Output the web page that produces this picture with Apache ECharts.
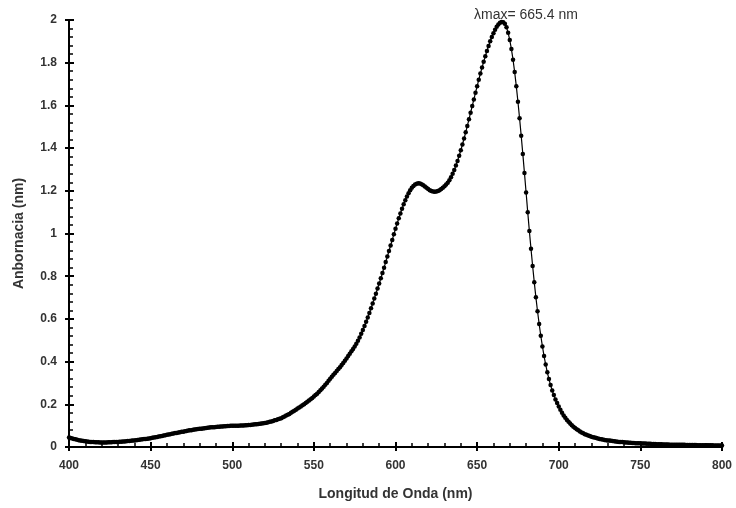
<!DOCTYPE html>
<html>
<head>
<meta charset="utf-8">
<script src="https://cdn.jsdelivr.net/npm/echarts@6/dist/echarts.min.js"></script>
<style>
  html, body { margin: 0; padding: 0; background: #fff; }
  #chart { width: 736px; height: 508px; }
</style>
</head>
<body>
<div id="chart"></div>
<script>
  // espectro: una lectura por nm, de 400 a 800 nm
  const startNm = 400
  const stepNm = 1
  const absorbancia = [
    0.044, 0.042, 0.040, 0.038, 0.036, 0.034, 0.032, 0.031, 0.029, 0.028, // 400
    0.027, 0.026, 0.025, 0.024, 0.023, 0.023, 0.022, 0.022, 0.022, 0.021, // 410
    0.021, 0.021, 0.021, 0.021, 0.022, 0.022, 0.022, 0.023, 0.023, 0.024, // 420
    0.024, 0.025, 0.025, 0.026, 0.026, 0.027, 0.028, 0.028, 0.029, 0.030, // 430
    0.031, 0.032, 0.033, 0.034, 0.035, 0.036, 0.037, 0.038, 0.039, 0.040, // 440
    0.041, 0.043, 0.044, 0.046, 0.047, 0.049, 0.050, 0.052, 0.054, 0.055, // 450
    0.057, 0.058, 0.060, 0.062, 0.063, 0.065, 0.066, 0.068, 0.069, 0.071, // 460
    0.072, 0.074, 0.075, 0.077, 0.078, 0.079, 0.081, 0.082, 0.083, 0.084, // 470
    0.085, 0.086, 0.087, 0.088, 0.089, 0.090, 0.091, 0.092, 0.093, 0.093, // 480
    0.094, 0.095, 0.095, 0.096, 0.096, 0.097, 0.097, 0.098, 0.098, 0.099, // 490
    0.099, 0.099, 0.100, 0.100, 0.100, 0.101, 0.101, 0.101, 0.102, 0.102, // 500
    0.103, 0.103, 0.104, 0.105, 0.106, 0.107, 0.108, 0.109, 0.110, 0.111, // 510
    0.112, 0.114, 0.116, 0.118, 0.120, 0.122, 0.125, 0.127, 0.130, 0.132, // 520
    0.135, 0.139, 0.143, 0.147, 0.151, 0.155, 0.160, 0.165, 0.170, 0.175, // 530
    0.180, 0.185, 0.190, 0.195, 0.200, 0.206, 0.212, 0.218, 0.224, 0.230, // 540
    0.236, 0.243, 0.250, 0.258, 0.266, 0.274, 0.282, 0.291, 0.300, 0.310, // 550
    0.320, 0.329, 0.338, 0.347, 0.356, 0.365, 0.374, 0.384, 0.394, 0.404, // 560
    0.415, 0.426, 0.437, 0.448, 0.459, 0.471, 0.484, 0.498, 0.513, 0.530, // 570
    0.548, 0.567, 0.587, 0.607, 0.628, 0.650, 0.672, 0.695, 0.718, 0.742, // 580
    0.766, 0.790, 0.815, 0.840, 0.866, 0.892, 0.918, 0.944, 0.970, 0.996, // 590
    1.022, 1.047, 1.071, 1.094, 1.116, 1.137, 1.156, 1.173, 1.189, 1.203, // 600
    1.214, 1.223, 1.229, 1.233, 1.235, 1.234, 1.231, 1.226, 1.220, 1.214, // 610
    1.208, 1.203, 1.199, 1.197, 1.196, 1.197, 1.199, 1.203, 1.208, 1.214, // 620
    1.221, 1.229, 1.238, 1.250, 1.264, 1.280, 1.298, 1.318, 1.340, 1.364, // 630
    1.390, 1.417, 1.445, 1.474, 1.504, 1.535, 1.566, 1.597, 1.628, 1.659, // 640
    1.690, 1.720, 1.749, 1.777, 1.804, 1.830, 1.855, 1.878, 1.900, 1.920, // 650
    1.938, 1.954, 1.968, 1.979, 1.987, 1.991, 1.990, 1.983, 1.966, 1.940, // 660
    1.906, 1.864, 1.814, 1.756, 1.690, 1.617, 1.540, 1.458, 1.372, 1.283, // 670
    1.192, 1.100, 1.012, 0.928, 0.848, 0.772, 0.701, 0.636, 0.576, 0.521, // 680
    0.471, 0.426, 0.386, 0.350, 0.318, 0.290, 0.265, 0.243, 0.223, 0.206, // 690
    0.190, 0.175, 0.161, 0.148, 0.137, 0.127, 0.118, 0.110, 0.102, 0.095, // 700
    0.089, 0.083, 0.078, 0.073, 0.068, 0.064, 0.060, 0.057, 0.054, 0.051, // 710
    0.048, 0.046, 0.044, 0.042, 0.040, 0.038, 0.036, 0.035, 0.033, 0.032, // 720
    0.031, 0.030, 0.029, 0.028, 0.027, 0.026, 0.025, 0.024, 0.023, 0.023, // 730
    0.022, 0.021, 0.021, 0.020, 0.020, 0.019, 0.019, 0.018, 0.018, 0.017, // 740
    0.017, 0.016, 0.016, 0.016, 0.015, 0.015, 0.015, 0.014, 0.014, 0.014, // 750
    0.013, 0.013, 0.013, 0.013, 0.012, 0.012, 0.012, 0.012, 0.011, 0.011, // 760
    0.011, 0.011, 0.011, 0.010, 0.010, 0.010, 0.010, 0.010, 0.009, 0.009, // 770
    0.009, 0.009, 0.009, 0.009, 0.009, 0.008, 0.008, 0.008, 0.008, 0.008, // 780
    0.008, 0.008, 0.008, 0.008, 0.008, 0.007, 0.007, 0.007, 0.007, 0.007, // 790
    0.007 // 800
  ]
  const xTicks = { min: 400, max: 800, interval: 50 }
  const yTicks = { min: 0, max: 2, interval: 0.2 }
  const lambdaMax = 665.4

  const puntos = absorbancia.map((a, i) => [startNm + i * stepNm, a])

  const font = '"Liberation Sans", Arial, sans-serif'
  const axisLine = { show: true, onZero: false, lineStyle: { color: '#000', width: 2 } }

  const chart = echarts.init(document.getElementById('chart'))
  const option = {
    animation: false,
    backgroundColor: '#fff',
    title: {
      text: 'λmax= ' + lambdaMax + ' nm',
      left: 469,
      top: 3,
      textStyle: { fontFamily: font, fontSize: 14, fontWeight: 'normal', color: '#333' },
    },
    grid: { left: 69, right: 14, top: 20, bottom: 61 },
    xAxis: [
      {
        type: 'value',
        min: xTicks.min,
        max: xTicks.max,
        interval: xTicks.interval,
        position: 'bottom',
        name: 'Longitud de Onda (nm)',
        nameLocation: 'middle',
        nameGap: 40,
        nameTextStyle: { fontFamily: font, fontSize: 14, fontWeight: 'bold', color: '#333' },
        axisLine: axisLine,
        axisTick: { show: true, inside: false, length: 4, lineStyle: { color: '#000', width: 2 } },
        axisLabel: { fontFamily: font, fontSize: 12, fontWeight: 'bold', color: '#333', margin: 13 },
        splitLine: { show: false },
      },
      {
        // segundo eje: marcas hacia dentro y marcas menores
        type: 'value',
        min: xTicks.min,
        max: xTicks.max,
        interval: xTicks.interval,
        position: 'bottom',
        axisLine: axisLine,
        axisTick: { show: true, inside: true, length: 5, lineStyle: { color: '#000', width: 2 } },
        minorTick: { show: true, splitNumber: 5, length: 4, lineStyle: { color: '#000', width: 1.5 } },
        axisLabel: { show: false },
        splitLine: { show: false },
      },
    ],
    yAxis: [
      {
        type: 'value',
        min: yTicks.min,
        max: yTicks.max,
        interval: yTicks.interval,
        position: 'left',
        name: 'Anbornacia (nm)',
        nameLocation: 'middle',
        nameGap: 43,
        nameTextStyle: { fontFamily: font, fontSize: 14, fontWeight: 'bold', color: '#333' },
        axisLine: axisLine,
        axisTick: { show: true, inside: false, length: 4, lineStyle: { color: '#000', width: 2 } },
        axisLabel: { fontFamily: font, fontSize: 12, fontWeight: 'bold', color: '#333', margin: 12 },
        splitLine: { show: false },
      },
      {
        type: 'value',
        min: yTicks.min,
        max: yTicks.max,
        interval: yTicks.interval,
        position: 'left',
        axisLine: axisLine,
        axisTick: { show: true, inside: true, length: 5, lineStyle: { color: '#000', width: 2 } },
        minorTick: { show: true, splitNumber: 5, length: 4, lineStyle: { color: '#000', width: 1.5 } },
        axisLabel: { show: false },
        splitLine: { show: false },
      },
    ],
    series: [
      {
        name: 'Absorbancia',
        type: 'line',
        xAxisIndex: 0,
        yAxisIndex: 0,
        data: puntos,
        symbol: 'circle',
        symbolSize: 4.5,
        showAllSymbol: true,
        itemStyle: { color: '#000' },
        lineStyle: { color: '#000', width: 1.2 },
        z: 5,
      },
    ],
  }
  chart.setOption(option)
</script>
</body>
</html>
